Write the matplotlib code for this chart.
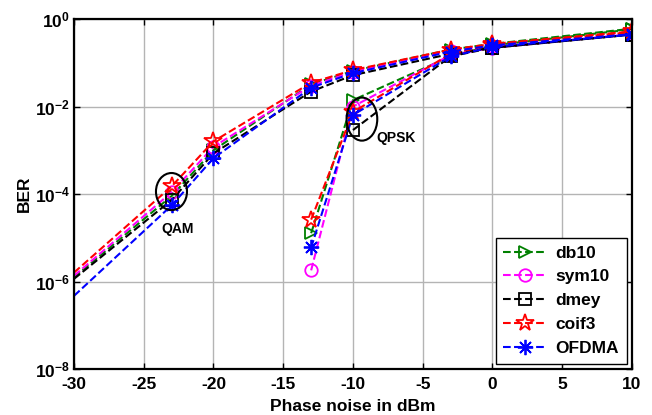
import numpy as np
import matplotlib
matplotlib.use("Agg")
import matplotlib.pyplot as plt
from matplotlib.patches import Ellipse

plt.rcParams['font.family'] = ['Liberation Sans', 'DejaVu Sans']
plt.rcParams['font.weight'] = 'bold'
plt.rcParams['mathtext.fontset'] = 'custom'
plt.rcParams['mathtext.rm'] = 'Liberation Sans:bold'
plt.rcParams['mathtext.bf'] = 'Liberation Sans:bold'
plt.rcParams['mathtext.default'] = 'bf'

# QAM curves
x_qam = [-30, -23, -20, -13, -10, -3, 0, 10]
db10_qam = [1.25e-6, 9e-5, 1.0e-3, 3.2e-2, 6.5e-2, 0.20, 0.27, 0.60]
sym10_qam = [1.35e-6, 1.1e-4, 1.2e-3, 3.0e-2, 6.2e-2, 0.19, 0.24, 0.45]
dmey_qam = [1.15e-6, 7.3e-5, 8.5e-4, 2.2e-2, 5.2e-2, 0.16, 0.22, 0.44]
coif3_qam = [1.6e-6, 1.5e-4, 1.6e-3, 3.5e-2, 6.8e-2, 0.20, 0.27, 0.52]
ofdma_qam = [4.7e-7, 5.5e-5, 6.6e-4, 2.7e-2, 5.8e-2, 0.18, 0.25, 0.45]

# QPSK curves
x_qpsk = [-13, -10, -3, 0, 10]
db10_qpsk = [1.27e-5, 1.4e-2, 0.14, 0.25, 0.58]
sym10_qpsk = [1.8e-6, 1.0e-2, 0.15, 0.22, 0.45]
dmey_qpsk = [np.nan, 2.9e-3, 0.14, 0.22, 0.44]
coif3_qpsk = [2.6e-5, 7.5e-3, 0.16, 0.26, 0.50]
ofdma_qpsk = [6e-6, 6.4e-3, 0.14, 0.23, 0.44]

names = ['db10', 'sym10', 'dmey', 'coif3', 'OFDMA']
colors = ['#008000', '#ff00ff', 'black', 'red', 'blue']
markers = ['>', 'o', 's', '*', (8, 2, 0)]
msizes = [9, 9, 9, 13, 11]
qam = [db10_qam, sym10_qam, dmey_qam, coif3_qam, ofdma_qam]
qpsk = [db10_qpsk, sym10_qpsk, dmey_qpsk, coif3_qpsk, ofdma_qpsk]

xticks = [-30, -25, -20, -15, -10, -5, 0, 5, 10]
yticks = [1e-8, 1e-6, 1e-4, 1e-2, 1e0]
ylabels = [r'$\mathbf{10^{-8}}$', r'$\mathbf{10^{-6}}$', r'$\mathbf{10^{-4}}$',
           r'$\mathbf{10^{-2}}$', r'$\mathbf{10^{0}}$']

fig = plt.figure(figsize=(6.52, 4.15), dpi=100)
ax = fig.add_axes([0.1135, 0.1108, 0.8558, 0.8434])

for i in range(5):
    ax.semilogy(x_qam, qam[i], linestyle='--', color=colors[i], marker=markers[i],
                markersize=msizes[i], markerfacecolor='none', markeredgewidth=1.3,
                linewidth=1.5, markevery=list(range(1, len(x_qam))), label=names[i])
    ax.semilogy(x_qpsk, qpsk[i], linestyle='--', color=colors[i], marker=markers[i],
                markersize=msizes[i], markerfacecolor='none', markeredgewidth=1.3,
                linewidth=1.5)

ax.set_xlim(-30, 10)
ax.set_ylim(1e-8, 1)
ax.set_xticks(xticks)
ax.set_xticklabels([str(t) for t in xticks])
ax.set_yticks(yticks)
ax.set_yticklabels(ylabels)
ax.minorticks_off()
ax.tick_params(direction='in', top=True, right=True, length=4, width=1,
               labelsize=12.5)
ax.tick_params(axis='x', pad=6)
ax.tick_params(axis='y', pad=3)
for lab in ax.get_xticklabels():
    lab.set_fontweight('bold')
ax.grid(True, color='#b4b4b4', linewidth=1.0, linestyle='-')
for s in ax.spines.values():
    s.set_linewidth(1.6)

ax.set_xlabel('Phase noise in dBm', fontsize=12.5, fontweight='bold', labelpad=5)
ax.set_ylabel('BER', fontsize=12.5, fontweight='bold', labelpad=2)

ax.add_patch(Ellipse((0.1747, 0.507), 0.0556, 0.106, transform=ax.transAxes,
                     fill=False, edgecolor='black', linewidth=1.5, zorder=5))
ax.add_patch(Ellipse((0.516, 0.714), 0.055, 0.123, transform=ax.transAxes,
                     fill=False, edgecolor='black', linewidth=1.5, zorder=5))
ax.text(0.185, 0.40, 'QAM', transform=ax.transAxes, fontsize=10,
        fontweight='bold', ha='center', va='center')
ax.text(0.578, 0.659, 'QPSK', transform=ax.transAxes, fontsize=10,
        fontweight='bold', ha='center', va='center')

leg = ax.legend(loc='lower right', fontsize=12.5, frameon=True, fancybox=False,
                edgecolor='black', framealpha=1, borderpad=0.45, labelspacing=0.5,
                handlelength=2.5, handletextpad=0.5, borderaxespad=0.3)
leg.get_frame().set_linewidth(1.0)
for t in leg.get_texts():
    t.set_fontweight('bold')

fig.savefig('out.png', dpi=100)
